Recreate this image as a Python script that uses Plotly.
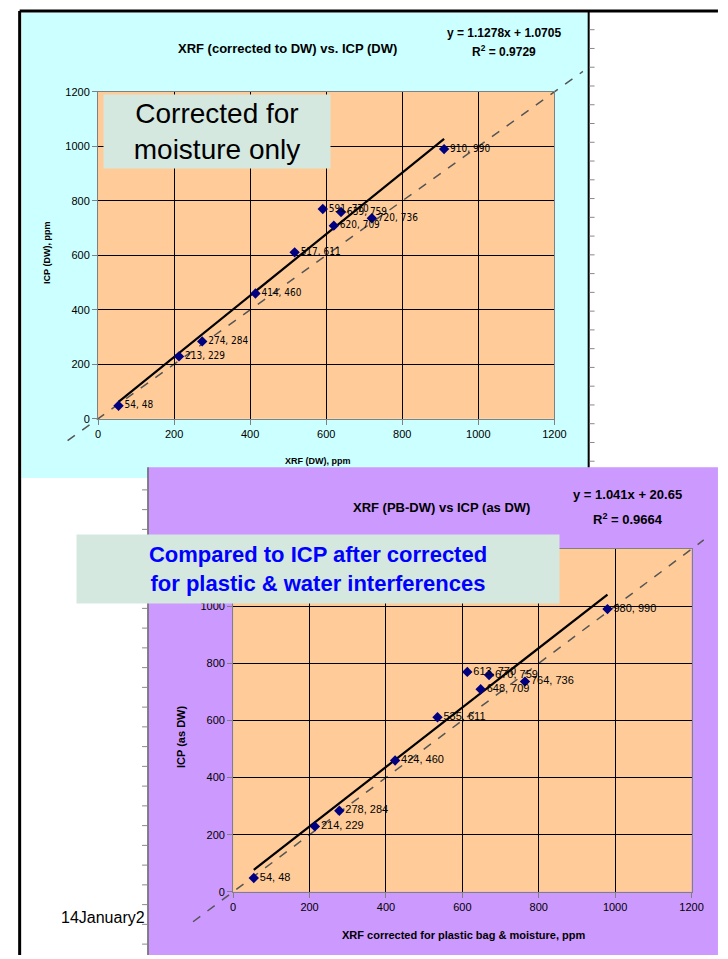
import plotly.graph_objects as go

# ---------------- data ----------------
top_xrf = [54, 213, 274, 414, 517, 591, 639, 620, 720, 910]
top_icp = [48, 229, 284, 460, 611, 770, 759, 709, 736, 990]
top_slope, top_icpt = 1.1278, 1.0705
top_r2 = 0.9729

bot_xrf = [54, 214, 278, 424, 535, 613, 670, 648, 764, 980]
bot_icp = [48, 229, 284, 460, 611, 770, 759, 709, 736, 990]
bot_slope, bot_icpt = 1.041, 20.65
bot_r2 = 0.9664

top_one_to_one = [-80, 1275]
bot_one_to_one = [-105, 1232]

axis_ticks = [0, 200, 400, 600, 800, 1000, 1200]

# ---------------- layout helpers ----------------
W, H = 728, 959
def px(x):
    return x / W
def py(y):
    return 1 - y / H

LABEL_FONT = "Liberation Sans, Arial, sans-serif"
NARROW_FONT = "Liberation Sans Narrow, DejaVu Sans Condensed, Liberation Sans, Arial, sans-serif"

TOP_BOX = (97, 563, 87, 418)
BOT_BOX = (235, 703, 550, 897)
TOP_OV = (30, 598, 55, 462)
BOT_OV = (150, 726, 535, 957)

def ov_ranges(box, ov, r0=0, r1=1200):
    l, r, t, b = box
    ol, orr, ot, ob = ov
    sx = (r1 - r0) / (r - l)
    sy = (r1 - r0) / (b - t)
    xr = [r0 + (ol - l) * sx, r0 + (orr - l) * sx]
    yr = [r0 + (b - ob) * sy, r0 + (b - ot) * sy]
    return xr, yr

fig = go.Figure()

fig.add_trace(go.Scatter(x=top_one_to_one, y=top_one_to_one, mode="lines",
                         line=dict(color="#555555", width=1.5, dash="dash"),
                         xaxis="x", yaxis="y", hoverinfo="skip", showlegend=False))
fig.add_trace(go.Scatter(x=bot_one_to_one, y=bot_one_to_one, mode="lines",
                         line=dict(color="#555555", width=1.5, dash="dash"),
                         xaxis="x2", yaxis="y2", hoverinfo="skip", showlegend=False))

tx = [min(top_xrf), max(top_xrf)]
fig.add_trace(go.Scatter(x=tx, y=[top_slope * v + top_icpt for v in tx], mode="lines",
                         line=dict(color="black", width=2.2),
                         xaxis="x3", yaxis="y3", hoverinfo="skip", showlegend=False))
bx = [min(bot_xrf), max(bot_xrf)]
fig.add_trace(go.Scatter(x=bx, y=[bot_slope * v + bot_icpt for v in bx], mode="lines",
                         line=dict(color="black", width=2.2),
                         xaxis="x4", yaxis="y4", hoverinfo="skip", showlegend=False))

fig.add_trace(go.Scatter(x=top_xrf, y=top_icp, mode="markers+text",
                         marker=dict(symbol="diamond", color="#000080", size=8),
                         text=[f"{a}, {b}" for a, b in zip(top_xrf, top_icp)],
                         textposition="middle right",
                         textfont=dict(family=NARROW_FONT, size=10, color="black"),
                         cliponaxis=False,
                         xaxis="x3", yaxis="y3", showlegend=False))
fig.add_trace(go.Scatter(x=bot_xrf, y=bot_icp, mode="markers+text",
                         marker=dict(symbol="diamond", color="#000080", size=8),
                         text=[f"{a}, {b}" for a, b in zip(bot_xrf, bot_icp)],
                         textposition="middle right",
                         textfont=dict(family=LABEL_FONT, size=11, color="black"),
                         cliponaxis=False,
                         xaxis="x4", yaxis="y4", showlegend=False))

txr, tyr = ov_ranges(TOP_BOX, TOP_OV)
bxr, byr = ov_ranges(BOT_BOX, BOT_OV)

def hidden(domain, rng, anchor):
    return dict(domain=domain, range=rng, visible=False, showgrid=False,
                zeroline=False, fixedrange=True, anchor=anchor)

def main_axis(domain, anchor, size):
    return dict(domain=domain, range=[0, 1200], tickvals=axis_ticks,
                showgrid=True, gridcolor="black", gridwidth=1,
                showline=True, linecolor="#808080", linewidth=1, mirror=True,
                ticks="outside", ticklen=5, tickcolor="#808080",
                zeroline=False, anchor=anchor, fixedrange=True,
                tickfont=dict(family=LABEL_FONT, size=size, color="black"))

fig.update_layout(
    autosize=True,
    margin=dict(l=0, r=0, t=0, b=0, pad=0),
    paper_bgcolor="white", plot_bgcolor="rgba(0,0,0,0)",
    xaxis=hidden([px(TOP_OV[0]), px(TOP_OV[1])], txr, "y"),
    yaxis=hidden([py(TOP_OV[3]), py(TOP_OV[2])], tyr, "x"),
    xaxis2=hidden([px(BOT_OV[0]), px(BOT_OV[1])], bxr, "y2"),
    yaxis2=hidden([py(BOT_OV[3]), py(BOT_OV[2])], byr, "x2"),
    xaxis3=main_axis([px(TOP_BOX[0]), px(TOP_BOX[1])], "y3", 11),
    yaxis3=main_axis([py(TOP_BOX[3]), py(TOP_BOX[2])], "x3", 11),
    xaxis4=main_axis([px(BOT_BOX[0]), px(BOT_BOX[1])], "y4", 11),
    yaxis4=main_axis([py(BOT_BOX[3]), py(BOT_BOX[2])], "x4", 11),
)

shapes = []
def rect(x0, y0, x1, y1, color, line=None):
    shapes.append(dict(type="rect", xref="paper", yref="paper",
                       x0=px(x0), x1=px(x1), y0=py(y1), y1=py(y0),
                       fillcolor=color, line=dict(width=0) if line is None else line,
                       layer="below"))
def seg(x0, y0, x1, y1, color, width):
    shapes.append(dict(type="line", xref="paper", yref="paper",
                       x0=px(x0), x1=px(x1), y0=py(y0), y1=py(y1),
                       line=dict(color=color, width=width), layer="below"))

rect(19, 7, 598, 478, "#CCFFFF")
rect(148, 467, 730, 961, "#CC99FF")
rect(TOP_BOX[0], TOP_BOX[2], TOP_BOX[1], TOP_BOX[3], "#FFCC99")
rect(BOT_BOX[0], BOT_BOX[2], BOT_BOX[1], BOT_BOX[3], "#FFCC99")
seg(17, 5, 730, 5, "black", 3)
seg(17, 5, 17, 961, "black", 3)
seg(598, 5, 598, 467, "black", 2)
seg(148, 467, 148, 961, "#666666", 1.5)
for k in range(25):
    yy = 24 + 19 * k
    if yy < 466:
        seg(599, yy, 604, yy, "#888888", 1)
for k in range(25):
    yy = 490 + 20 * k
    if yy < 959:
        seg(142, yy, 147, yy, "#888888", 1)

fig.update_layout(shapes=shapes)

ann = []
def text(x, y, s, size, bold=False, color="black", family=LABEL_FONT, xanchor="center",
         angle=0, **kw):
    ann.append(dict(xref="paper", yref="paper", x=px(x), y=py(y),
                    text=f"<b>{s}</b>" if bold else s, showarrow=False,
                    font=dict(family=family, size=size, color=color),
                    xanchor=xanchor, yanchor="middle", textangle=angle, **kw))

text(290, 43, "XRF (corrected to DW) vs. ICP (DW)", 13, bold=True)
text(512, 27, f"y = {top_slope}x + {top_icpt}", 12, bold=True)
text(512, 46, f"R<sup>2</sup> = {top_r2}", 12, bold=True)
text(322, 461, "XRF (DW), ppm", 9, bold=True)
text(45, 250, "ICP (DW), ppm", 9, bold=True, angle=-90)
text(218, 127, "Corrected for<br>moisture only", 28, bgcolor="#D5E8E0",
     width=224, height=71, align="center")

text(448, 508, "XRF (PB-DW) vs ICP (as DW)", 13, bold=True)
text(638, 495, f"y = {bot_slope}x + {bot_icpt}", 13, bold=True)
text(638, 519, f"R<sup>2</sup> = {bot_r2}", 13, bold=True)
text(470, 941, "XRF corrected for plastic bag &amp; moisture, ppm", 11, bold=True)
text(181, 740, "ICP (as DW)", 11, bold=True, angle=-90)
text(322, 570, "Compared to ICP after corrected<br>for plastic &amp; water interferences", 22,
     bold=True, color="#0000FF", bgcolor="#D5E8E0", width=480, height=66, align="center")

text(147, 923, "14January2", 16, xanchor="right")

fig.update_layout(annotations=ann)

fig.write_html("out.html", config={"displayModeBar": False, "responsive": True},
               default_width="100vw", default_height="100vh",
               post_script="document.documentElement.style.overflow='hidden';"
                           "document.body.style.margin='0';document.body.style.overflow='hidden';")
